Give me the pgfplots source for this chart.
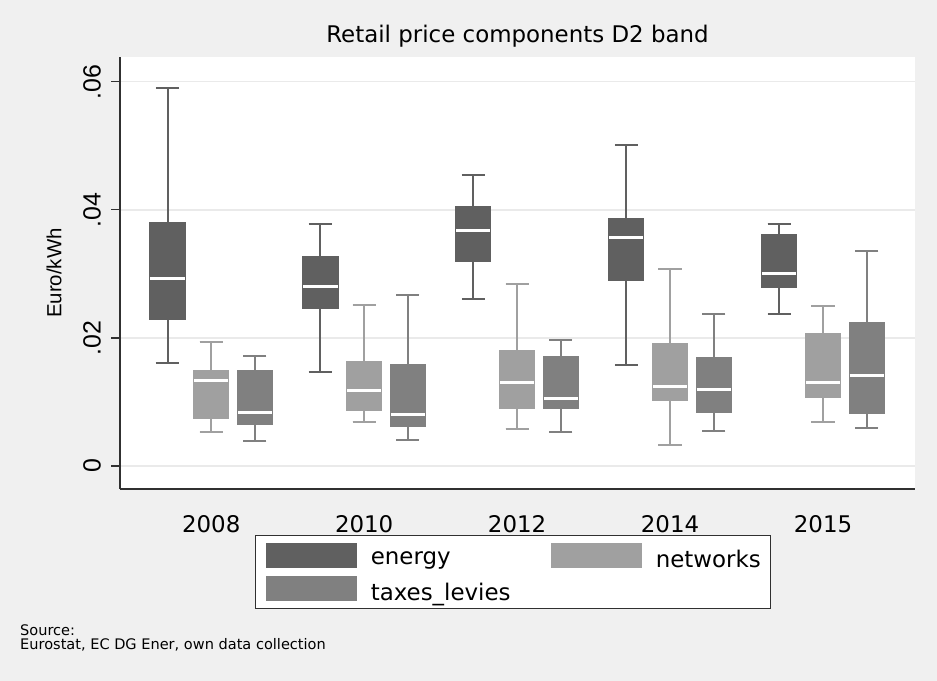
\documentclass[border=0pt]{standalone}
\usepackage{fontspec}
\setmainfont{DejaVu Sans}
\newfontfamily\arialf{Liberation Sans}
\usepackage{pgfplots}
\pgfplotsset{compat=1.18}
\usepgfplotslibrary{statistics}
\definecolor{bgcol}{HTML}{F0F0F0}
\definecolor{gridcol}{HTML}{EAEAEA}
\definecolor{cE}{HTML}{606060}
\definecolor{cN}{HTML}{A0A0A0}
\definecolor{cT}{HTML}{808080}
\definecolor{axcol}{HTML}{303030}
\pgfplotsset{
  boxplot/every median/.style={draw=white, line width=3bp},
  bx/.style={fill=#1, draw=#1, line width=2bp, forget plot},
  boxplot/draw direction=y,
  boxplot/box extend=0.78,
  boxplot/whisker extend=0.53,
}
% values in Euro/kWh x 100 (axis labelled in Euro/kWh)
\begin{document}
\begin{tikzpicture}
\path[use as bounding box, fill=bgcol] (0,0) rectangle (937bp,681bp);
\begin{axis}[
  at={(120bp,192bp)}, anchor=south west,
  scale only axis, width=795bp, height=432bp,
  axis background/.style={fill=white},
  axis x line*=bottom, axis y line*=left,
  axis line style={draw=axcol, line width=1.7bp},
  xmin=-1.087, xmax=17.105,
  ymin=-0.359, ymax=6.386,
  xtick={1,4.5,8,11.5,15},
  xticklabels={2008,2010,2012,2014,2015},
  xtick style={draw=none},
  xticklabel style={anchor=base, yshift=-34.3bp, font=\fontsize{23}{27}\selectfont},
  ytick={0,2,4,6},
  yticklabels={0,.02,.04,.06},
  tick align=outside,
  major tick length=9bp,
  ytick style={draw=axcol, line width=1.3bp},
  yticklabel style={xshift=-10bp, rotate=90, anchor=south, inner sep=0pt, font=\arialf\fontsize{25}{25}\selectfont},
  ymajorgrids,
  major grid style={draw=gridcol, line width=1.5bp},
  ylabel={Euro/kWh},
  ylabel style={at={(axis description cs:-0.083,0.5)}, anchor=center, font=\arialf\fontsize{20.5}{22}\selectfont},
  title={Retail price components D2 band},
  title style={at={(axis description cs:0.5,1)}, anchor=base, yshift=8.7bp, font=\fontsize{23}{27}\selectfont},
  legend columns=2,
  legend cell align=left,
  legend style={at={(axis description cs:0.1698,-0.1065)}, anchor=north west,
    draw=axcol, line width=1.2bp, fill=white,
    font=\fontsize{23}{27}\selectfont,
    inner xsep=10bp, inner ysep=7bp, row sep=7bp,
    nodes={inner sep=0pt},
    /tikz/every even column/.append style={column sep=40bp}},
]
\addlegendimage{legend image code/.code={\fill[cE] (0bp,-8bp) rectangle (90bp,16bp); \path (104bp,0bp);}}
\addlegendentry{energy}
\addlegendimage{legend image code/.code={\fill[cN] (0bp,-8bp) rectangle (90bp,16bp); \path (104bp,0bp);}}
\addlegendentry{networks}
\addlegendimage{legend image code/.code={\fill[cT] (0bp,-8bp) rectangle (90bp,16bp); \path (104bp,0bp);}}
\addlegendentry{taxes\_levies}

% 2008
\addplot[bx=cE, boxplot prepared={draw position=0, lower whisker=1.61, lower quartile=2.29, median=2.93, upper quartile=3.79, upper whisker=5.90}] coordinates {};
\addplot[bx=cN, boxplot prepared={draw position=1, lower whisker=0.53, lower quartile=0.75, median=1.34, upper quartile=1.48, upper whisker=1.94}] coordinates {};
\addplot[bx=cT, boxplot prepared={draw position=2, lower whisker=0.39, lower quartile=0.65, median=0.84, upper quartile=1.48, upper whisker=1.71}] coordinates {};
% 2010
\addplot[bx=cE, boxplot prepared={draw position=3.5, lower whisker=1.47, lower quartile=2.46, median=2.81, upper quartile=3.27, upper whisker=3.78}] coordinates {};
\addplot[bx=cN, boxplot prepared={draw position=4.5, lower whisker=0.69, lower quartile=0.87, median=1.18, upper quartile=1.62, upper whisker=2.51}] coordinates {};
\addplot[bx=cT, boxplot prepared={draw position=5.5, lower whisker=0.41, lower quartile=0.63, median=0.81, upper quartile=1.58, upper whisker=2.67}] coordinates {};
% 2012
\addplot[bx=cE, boxplot prepared={draw position=7, lower whisker=2.60, lower quartile=3.20, median=3.67, upper quartile=4.04, upper whisker=4.55}] coordinates {};
\addplot[bx=cN, boxplot prepared={draw position=8, lower whisker=0.58, lower quartile=0.90, median=1.30, upper quartile=1.79, upper whisker=2.84}] coordinates {};
\addplot[bx=cT, boxplot prepared={draw position=9, lower whisker=0.53, lower quartile=0.90, median=1.06, upper quartile=1.70, upper whisker=1.97}] coordinates {};
% 2014
\addplot[bx=cE, boxplot prepared={draw position=10.5, lower whisker=1.57, lower quartile=2.91, median=3.56, upper quartile=3.85, upper whisker=5.01}] coordinates {};
\addplot[bx=cN, boxplot prepared={draw position=11.5, lower whisker=0.33, lower quartile=1.03, median=1.24, upper quartile=1.90, upper whisker=3.07}] coordinates {};
\addplot[bx=cT, boxplot prepared={draw position=12.5, lower whisker=0.54, lower quartile=0.84, median=1.19, upper quartile=1.68, upper whisker=2.37}] coordinates {};
% 2015
\addplot[bx=cE, boxplot prepared={draw position=14, lower whisker=2.37, lower quartile=2.79, median=3.01, upper quartile=3.61, upper whisker=3.78}] coordinates {};
\addplot[bx=cN, boxplot prepared={draw position=15, lower whisker=0.68, lower quartile=1.07, median=1.30, upper quartile=2.06, upper whisker=2.50}] coordinates {};
\addplot[bx=cT, boxplot prepared={draw position=16, lower whisker=0.60, lower quartile=0.82, median=1.41, upper quartile=2.23, upper whisker=3.35}] coordinates {};
\end{axis}
\node[anchor=base west, inner sep=0pt, font=\fontsize{14.6}{16}\selectfont] at (20bp,45bp) {Source:};
\node[anchor=base west, inner sep=0pt, font=\fontsize{14.6}{16}\selectfont] at (20bp,32bp) {Eurostat, EC DG Ener, own data collection};
\end{tikzpicture}
\end{document}
